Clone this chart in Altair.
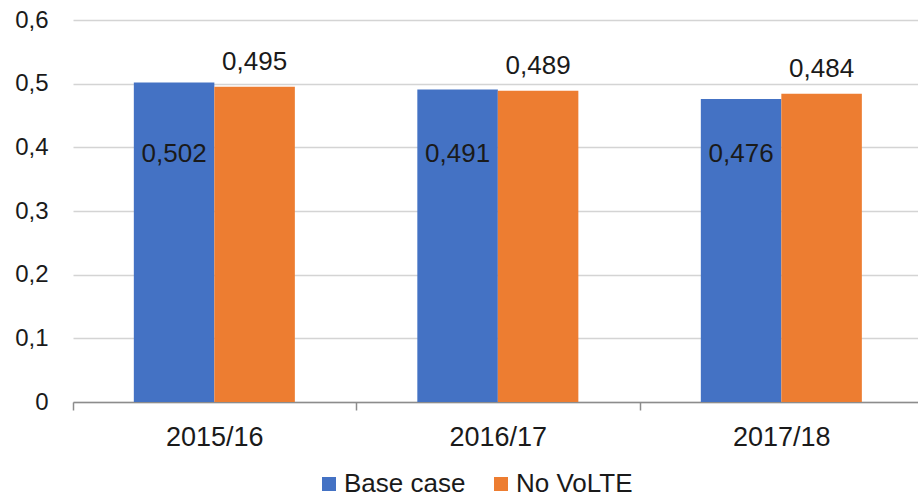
import altair as alt
import pandas as pd

years = ["2015/16", "2016/17", "2017/18"]
series = ["Base case", "No VoLTE"]
base_case = [0.502, 0.491, 0.476]
no_volte = [0.495, 0.489, 0.484]
colors = ["#4472C4", "#ED7D31"]

rows = []
for i, y in enumerate(years):
    rows.append({"year": y, "series": series[0], "value": base_case[i]})
    rows.append({"year": y, "series": series[1], "value": no_volte[i]})
df = pd.DataFrame(rows)

FONT = "Liberation Sans"
TXT = "#1a1a1a"
W = 845
P_IN = 0.432
P_OUT = 0.2063
STEP = W / (3 - P_IN + 2 * P_OUT)

x = alt.X("year:N", sort=years, title=None,
          scale=alt.Scale(paddingInner=P_IN, paddingOuter=P_OUT, align=0.52),
          axis=alt.Axis(labelAngle=0, labelFontSize=27, labelFont=FONT, labelColor=TXT,
                        labelPadding=14, tickOffset=-STEP / 2, labelOffset=STEP / 2,
                        tickSize=8, tickColor="#8c8c8c",
                        tickWidth=1.5, domainColor="#8c8c8c", domainWidth=1.5, grid=False))
y = alt.Y("value:Q", title=None,
          scale=alt.Scale(domain=[0, 0.6], nice=False),
          axis=alt.Axis(values=[0, 0.1, 0.2, 0.3, 0.4, 0.5, 0.6], labelFontSize=24, labelFont=FONT,
                        labelColor=TXT, labelPadding=25, ticks=False, domain=False,
                        gridColor="#d4d4d4", gridWidth=1.5,
                        labelExpr="datum.value == 0 ? '0' : replace(format(datum.value, '.1f'), '.', ',')"))
xo = alt.XOffset("series:N", sort=series)

base = alt.Chart(df).transform_calculate(
    label="replace(format(datum.value, '.3f'), '.', ',')"
)

bars = base.mark_bar().encode(
    x=x, y=y, xOffset=xo,
    color=alt.Color("series:N", sort=series, title=None,
                    scale=alt.Scale(domain=series, range=colors),
                    legend=alt.Legend(orient="none", legendX=243, legendY=451, direction="horizontal",
                                      symbolType="square", symbolSize=196, symbolStrokeWidth=0,
                                      labelFontSize=26, labelFont=FONT, labelColor=TXT,
                                      columnPadding=22, labelOffset=2)),
)

blue_text = base.transform_filter(alt.datum.series == series[0]).mark_text(
    font=FONT, fontSize=26, color=TXT, align="center", baseline="middle", dx=0
).encode(x=x, y=alt.Y(datum=0.389), xOffset=xo, text="label:N")

orange_text = base.transform_filter(alt.datum.series == series[1]).mark_text(
    font=FONT, fontSize=26, color=TXT, align="center", baseline="alphabetic", dy=-17
).encode(x=x, y=y, xOffset=xo, text="label:N")

chart = (bars + blue_text + orange_text).properties(
    width=W, height=382,
    autosize=alt.AutoSizeParams(type="none"),
    padding={"left": 73, "top": 20, "right": 0, "bottom": 95},
).configure_view(stroke=None).configure_scale(offsetBandPaddingInner=0)

chart.save("out.html", embed_options={"renderer": "svg", "actions": False})
